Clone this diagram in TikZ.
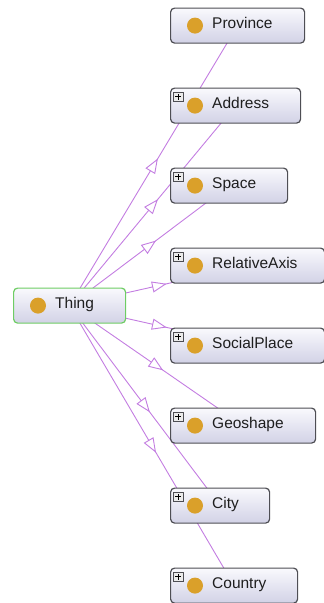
\documentclass[tikz,border=0pt]{standalone}
\usepackage{fontspec}
\setmainfont{Liberation Sans}
\usetikzlibrary{decorations.markings,calc}
\pgfdeclarelayer{background}
\pgfsetlayers{background,main}

\definecolor{edgepurple}{RGB}{195,125,225}
\definecolor{dotgold}{RGB}{218,160,42}
\definecolor{boxborder}{RGB}{78,78,84}
\definecolor{thingborder}{RGB}{110,205,100}
\definecolor{boxtop}{RGB}{249,249,253}
\definecolor{boxbottom}{RGB}{210,210,230}
\definecolor{labeltext}{RGB}{30,30,30}

\tikzset{
  classbox/.style={draw=boxborder, line width=1.2pt, rounded corners=4pt,
    top color=boxtop, bottom color=boxbottom, minimum height=35pt,
    inner sep=0pt, anchor=north west},
  rootbox/.style={classbox, draw=thingborder},
  dot/.style={circle, fill=dotgold, minimum size=16pt, inner sep=0pt},
  classlabel/.style={anchor=base west, inner sep=0pt,
    font=\fontsize{15.5}{18}\selectfont, text=labeltext},
  expander/.style={draw=boxborder, fill=black!8, line width=0.6pt,
    minimum size=9.5pt, inner sep=0pt, anchor=north west,
    path picture={
      \draw[line width=1pt, black]
        ([xshift=-3pt]path picture bounding box.center) --
        ([xshift=3pt]path picture bounding box.center)
        ([yshift=-3pt]path picture bounding box.center) --
        ([yshift=3pt]path picture bounding box.center);}},
  isa/.style={draw=edgepurple, line width=0.9pt, postaction={decorate},
    decoration={markings, mark=at position 0.5 with {
      \draw[edgepurple, fill=white, line width=0.9pt, line join=miter]
        (-6pt,5pt) -- (7pt,0pt) -- (-6pt,-5pt) -- cycle;}}}
}

\begin{document}
\begin{tikzpicture}[x=1pt, y=-1pt]
  \useasboundingbox (0,0) rectangle (324,603);

  % root class
  \node[rootbox, minimum width=112pt] (thing) at (13,287.5) {};
  \node[dot] (thing-dot) at ($(thing.west)+(25,0)$) {};
  \node[classlabel] (thing-label) at ($(thing.west)+(42,3)$) {Thing};

  % subclasses
  \foreach \n/\w/\y/\t in {
      province/134/7.5/Province,
      address/130/87.5/Address,
      space/117/167.5/Space,
      relaxis/154/247.5/RelativeAxis,
      socialplace/154/327.5/SocialPlace,
      geoshape/145/407.5/Geoshape,
      city/99/487.5/City,
      country/127/567.5/Country} {
    \node[classbox, minimum width=\w pt] (\n) at (170,\y) {};
    \node[dot] (\n-dot) at ($(\n.west)+(25,0)$) {};
    \node[classlabel] (\n-label) at ($(\n.west)+(42,3)$) {\t};
  }

  % expand markers on classes that have children
  \foreach \n in {address,space,relaxis,socialplace,geoshape,city,country}
    \node[expander] (\n-plus) at ($(\n.north west)+(3,4)$) {};

  % subclass edges, behind the boxes
  \begin{pgfonlayer}{background}
    \foreach \n in {province,address,space,relaxis,socialplace,geoshape,city,country}
      \draw[isa] (thing.center) -- (\n.center);
  \end{pgfonlayer}
\end{tikzpicture}
\end{document}
